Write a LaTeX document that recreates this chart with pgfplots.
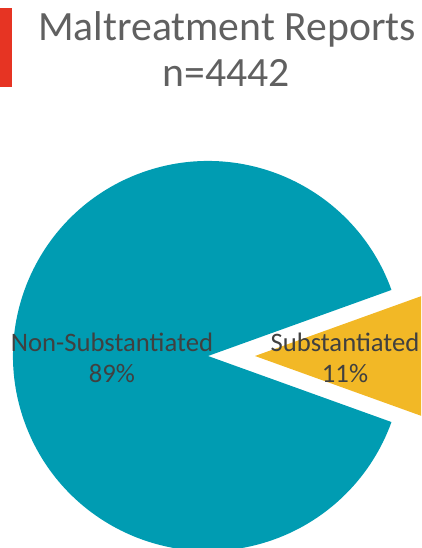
\documentclass[border=0pt]{standalone}
\usepackage{fontspec}
\setmainfont{Carlito}
\usepackage{pgfplots}
\pgfplotsset{compat=1.18}

\definecolor{pieteal}{RGB}{0,156,178}
\definecolor{pieyellow}{RGB}{242,184,38}
\definecolor{barred}{RGB}{230,52,35}
\definecolor{titlegray}{RGB}{96,96,96}
\definecolor{labelgray}{RGB}{64,64,64}

% share of each slice (percent)
\def\valNon{89}
\def\valSub{11}

\begin{document}
\begin{tikzpicture}[x=0.6pt,y=0.6pt]
\pgfmathsetmacro\halfSub{\valSub*3.6/2}
\begin{axis}[
    at={(0,0)}, anchor=south west,
    scale only axis,
    width=252.6pt, height=328.8pt,
    xmin=0, xmax=421, ymin=0, ymax=548,
    hide axis,
    clip=true,
]
% Non-Substantiated slice
\fill[pieteal] (axis cs:208,192) -- ++(\halfSub:117pt)
    arc[start angle=\halfSub, end angle=360-\halfSub, radius=117pt] -- cycle;
% Substantiated slice (exploded)
\fill[pieyellow] (axis cs:255,192) -- ++(-\halfSub:117pt)
    arc[start angle=-\halfSub, end angle=\halfSub, radius=117pt] -- cycle;
\end{axis}
\useasboundingbox (0,0) rectangle (421,548);
\fill[barred] (0,461) rectangle (12,540);
\node[anchor=base, text=titlegray, font=\fontsize{25}{29}\selectfont, inner sep=0pt] at (227,507) {Maltreatment Reports};
\node[anchor=base, text=titlegray, font=\fontsize{25}{29}\selectfont, inner sep=0pt] at (226,461) {n=4442};
\node[anchor=base, text=labelgray, font=\fontsize{16}{18}\selectfont, inner sep=0pt] at (112,196) {Non-Substantiated};
\node[anchor=base, text=labelgray, font=\fontsize{16}{18}\selectfont, inner sep=0pt] at (112,165) {\valNon\%};
\node[anchor=base, text=labelgray, font=\fontsize{16}{18}\selectfont, inner sep=0pt] at (345,196) {Substantiated};
\node[anchor=base, text=labelgray, font=\fontsize{16}{18}\selectfont, inner sep=0pt] at (345,165) {\valSub\%};
\end{tikzpicture}
\end{document}
